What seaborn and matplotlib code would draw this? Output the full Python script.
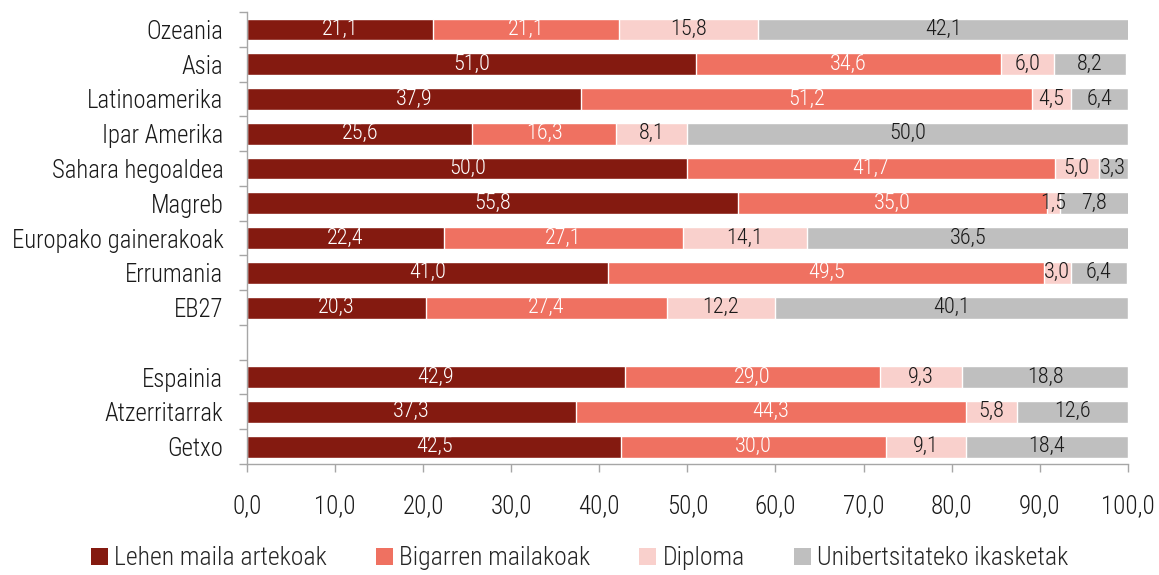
import numpy as np
import pandas as pd
import matplotlib
matplotlib.use("Agg")
import matplotlib.pyplot as plt
import seaborn as sns
from matplotlib.patches import Patch

# --- data ---
kategoriak = ["Ozeania", "Asia", "Latinoamerika", "Ipar Amerika", "Sahara hegoaldea",
              "Magreb", "Europako gainerakoak", "Errumania", "EB27",
              "Espainia", "Atzerritarrak", "Getxo"]
lehen_maila = [21.1, 51.0, 37.9, 25.6, 50.0, 55.8, 22.4, 41.0, 20.3, 42.9, 37.3, 42.5]
bigarren_maila = [21.1, 34.6, 51.2, 16.3, 41.7, 35.0, 27.1, 49.5, 27.4, 29.0, 44.3, 30.0]
diploma = [15.8, 6.0, 4.5, 8.1, 5.0, 1.5, 14.1, 3.0, 12.2, 9.3, 5.8, 9.1]
unibertsitatea = [42.1, 8.2, 6.4, 50.0, 3.3, 7.8, 36.5, 6.4, 40.1, 18.8, 12.6, 18.4]

serie_izenak = ["Lehen maila artekoak", "Bigarren mailakoak", "Diploma",
                "Unibertsitateko ikasketak"]
koloreak = ["#841A10", "#EF7161", "#F9D0CC", "#BFBFBF"]
testu_koloreak = ["white", "white", "#1a1a1a", "#1a1a1a"]

# empty slot between EB27 and Espainia
ordena = kategoriak[:9] + [" "] + kategoriak[9:]

df = pd.DataFrame({"kat": kategoriak, "s1": lehen_maila, "s2": bigarren_maila,
                   "s3": diploma, "s4": unibertsitatea})
series = ["s1", "s2", "s3", "s4"]
cum = df[series].cumsum(axis=1)

sns.set_style("white")
plt.rcParams["font.family"] = ["Roboto Condensed", "DejaVu Sans"]
plt.rcParams["font.weight"] = "light"

fig = plt.figure(figsize=(11.59, 5.75), dpi=100)
ax = fig.add_axes([0.2131, 0.193, 0.76, 0.786])

# stacked bars: draw cumulative totals, biggest first
for i in reversed(range(4)):
    tmp = pd.DataFrame({"kat": df["kat"], "val": cum[series[i]]})
    sns.barplot(data=tmp, y="kat", x="val", order=ordena, color=koloreak[i],
                saturation=1, width=0.63, orient="h", ax=ax, errorbar=None)

# labels centred in each segment
pos = {k: ordena.index(k) for k in kategoriak}
for i, s in enumerate(series):
    for idx, row in df.iterrows():
        v = row[s]
        xc = cum.loc[idx, s] - v / 2
        ax.text(xc, pos[row["kat"]], f"{v:.1f}".replace(".", ","), ha="center",
                va="center", fontsize=16, color=testu_koloreak[i])

ax.set_xlim(0, 100)
ax.set_ylim(len(ordena) - 0.5, -0.5)
ax.set_xticks(np.arange(0, 101, 10))
ax.set_xticklabels([f"{t:.1f}".replace(".", ",") for t in np.arange(0, 101, 10)])
ax.set_yticks(range(len(ordena)))
ax.set_yticklabels(ordena)
ax.set_yticks(np.arange(-0.5, len(ordena), 1), minor=True)
ax.tick_params(axis="y", which="major", left=False, length=0, labelsize=17.8, pad=17,
               colors="#1a1a1a")
ax.tick_params(axis="y", which="minor", left=True, length=6, color="#A6A6A6", width=1)
ax.tick_params(axis="x", bottom=True, length=6, width=1, labelsize=18, pad=16,
               labelcolor="#1a1a1a", color="#A6A6A6")
ax.set_xlabel("")
ax.set_ylabel("")
for side in ["top", "right"]:
    ax.spines[side].set_visible(False)
for side in ["left", "bottom"]:
    ax.spines[side].set_color("#A6A6A6")
    ax.spines[side].set_linewidth(1)

handles = [Patch(facecolor=c, edgecolor="none") for c in koloreak]
fig.legend(handles, serie_izenak, loc="lower center", bbox_to_anchor=(0.5, -0.032),
           ncol=4, frameon=False, fontsize=18.5, handlelength=0.66, handleheight=0.66,
           handletextpad=0.25, columnspacing=1.9)

fig.savefig("out.png", dpi=100)
